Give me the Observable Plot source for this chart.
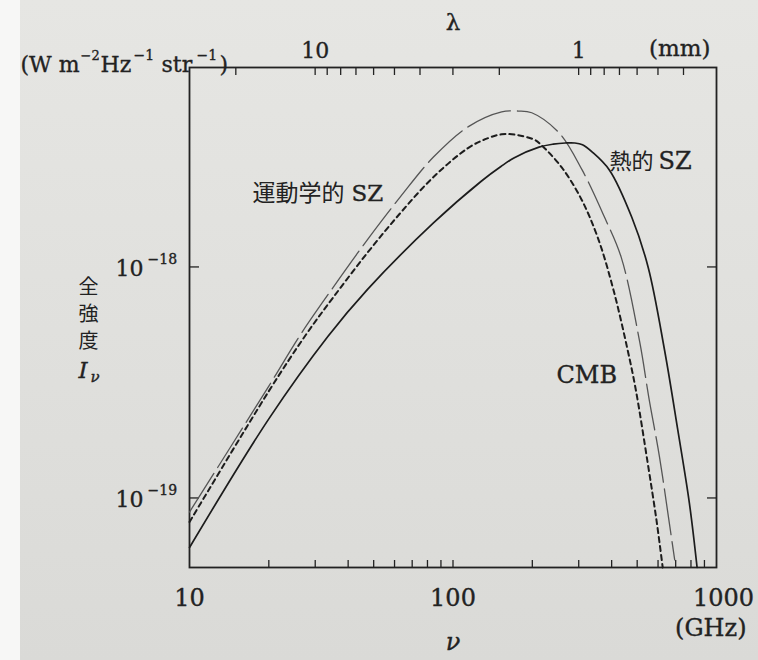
<!DOCTYPE html>
<html>
<head>
<meta charset="utf-8">
<script src="https://cdn.jsdelivr.net/npm/d3@7"></script>
<script src="https://cdn.jsdelivr.net/npm/@observablehq/plot@0.6"></script>
<style>
  html, body { margin: 0; padding: 0; }
  body {
    width: 758px; height: 660px; overflow: hidden;
    background:
      linear-gradient(to right, #f7f7f6 0, #f7f7f6 20px, rgba(0,0,0,0) 20px),
      linear-gradient(#e6e6e3, #dadad7);
  }
  #chart svg { display: block; }
</style>
</head>
<body>
<div id="chart"></div>
<script>
// ---- data (frequency in GHz, intensity in W m^-2 Hz^-1 str^-1) ----
const nuCMB = [10, 20, 27.7, 35.2, 47.3, 63.1, 84.3, 114, 135, 153, 171, 204, 217, 259, 308, 356, 407, 460, 494, 548, 592, 625];
const iCMB  = [7.87e-20, 2.9e-19, 5.1e-19, 7.41e-19, 1.15e-18, 1.71e-18, 2.45e-18, 3.27e-18, 3.6e-18, 3.75e-18, 3.74e-18, 3.55e-18, 3.36e-18, 2.69e-18, 1.95e-18, 1.32e-18, 7.9e-19, 4.37e-19, 2.94e-19, 1.42e-19, 8.0e-20, 5.0e-20];

const nuKin = [10, 20, 26.4, 35.2, 47.3, 63.1, 84.3, 114, 153, 177, 199, 253, 309, 376, 435, 512, 553, 608, 657, 694];
const iKin  = [8.69e-20, 3.05e-19, 5.1e-19, 8.2e-19, 1.31e-18, 2.01e-18, 2.99e-18, 4.04e-18, 4.69e-18, 4.73e-18, 4.65e-18, 3.80e-18, 2.63e-18, 1.64e-18, 1.10e-18, 4.69e-19, 2.74e-19, 1.50e-19, 8.28e-20, 5.39e-20];

const nuTh = [10, 20, 33.5, 47.4, 84.3, 128, 152, 171, 212, 240, 267, 290, 310, 337, 392, 477, 550, 635, 713, 789, 844];
const iTh  = [6.1e-20, 2.2e-19, 5.0e-19, 8.0e-19, 1.55e-18, 2.35e-18, 2.72e-18, 2.97e-18, 3.30e-18, 3.40e-18, 3.44e-18, 3.44e-18, 3.38e-18, 3.15e-18, 2.63e-18, 1.64e-18, 1.0e-18, 4.37e-19, 1.97e-19, 9.5e-20, 5.0e-20];

// axes
const xDomain = [10, 1000];
const yDomain = [5.0e-20, 7.3e-18];
const xLabelTicks = [10, 100, 1000];
const xMinorTicks = [20, 30, 40, 50, 60, 70, 80, 90, 100, 200, 300, 400, 500, 600, 700, 800, 900];
const lambdaTicks = [20, 10, 9, 8, 7, 6, 5, 4, 3, 2, 1, 0.9, 0.8, 0.7, 0.6, 0.5, 0.4]; // mm
const lambdaLabels = [10, 1]; // mm
const yTicks = [1e-19, 1e-18];
const yTitleChars = ["全", "強", "度"];
const C_MM_GHZ = 299.792458; // lambda[mm] * nu[GHz]

const toRows = (nu, I, name) => nu.map((v, i) => ({nu: v, I: I[i], name}));
const cmb = toRows(nuCMB, iCMB, "CMB");
const kin = toRows(nuKin, iKin, "運動学的 SZ");
const th  = toRows(nuTh, iTh, "熱的 SZ");

const SERIF = "DejaVu Serif, Liberation Serif, serif";
const CJK = "Noto Sans CJK JP, sans-serif";
const CJK_IN_SERIF = "DejaVu Serif, Noto Sans CJK JP, serif";
const INK = "#222222";
const HEAVY = {stroke: INK, strokeWidth: 0.35};

const ML = 189, MT = 67;
// free-standing label helper, positioned relative to the frame's top-left corner
const lab = (text, px, py, o = {}) => Plot.text([0], {
  frameAnchor: "top-left", dx: px - ML, dy: py - MT, text: () => text,
  lineAnchor: "bottom", textAnchor: "start", fill: INK, fontFamily: SERIF, fontSize: 22, ...HEAVY, ...o
});

const chart = Plot.plot({
  width: 758, height: 660,
  marginLeft: ML, marginRight: 42, marginTop: MT, marginBottom: 93,
  x: {type: "log", domain: xDomain},
  y: {type: "log", domain: yDomain},
  style: {background: "transparent", overflow: "visible"},
  marks: [
    // ticks (inward)
    Plot.axisX(xMinorTicks, {anchor: "bottom", tickSize: -7, tickFormat: () => "", label: null, stroke: INK, strokeWidth: 1.3}),
    Plot.axisX(lambdaTicks.map(l => C_MM_GHZ / l), {anchor: "top", tickSize: -7, tickFormat: () => "", label: null, stroke: INK, strokeWidth: 1.3}),
    Plot.axisY(yTicks, {anchor: "left", tickSize: -10, tickFormat: () => "", label: null, stroke: INK, strokeWidth: 1.3}),
    Plot.axisY(yTicks, {anchor: "right", tickSize: -10, tickFormat: () => "", label: null, stroke: INK, strokeWidth: 1.3}),
    Plot.frame({stroke: INK, strokeWidth: 1.8}),

    // curves
    Plot.line(kin, {x: "nu", y: "I", curve: "catmull-rom", stroke: "#555555", strokeWidth: 1.3, strokeDasharray: "46,7"}),
    Plot.line(cmb, {x: "nu", y: "I", curve: "catmull-rom", stroke: "#1c1c1c", strokeWidth: 2, strokeDasharray: "5,4"}),
    Plot.line(th,  {x: "nu", y: "I", curve: "catmull-rom", stroke: "#1c1c1c", strokeWidth: 1.7}),

    // bottom axis labels
    Plot.text(xLabelTicks.slice(0, 2), {x: d => d, text: d => String(d), frameAnchor: "bottom", lineAnchor: "bottom", dy: 38, fill: INK, fontFamily: SERIF, fontSize: 24, ...HEAVY}),
    Plot.text(xLabelTicks.slice(2), {x: d => d, text: d => String(d), frameAnchor: "bottom", lineAnchor: "bottom", dy: 38, dx: 7, fill: INK, fontFamily: SERIF, fontSize: 24, ...HEAVY}),
    Plot.text(["(GHz)"], {x: xDomain[1], text: d => d, frameAnchor: "bottom", lineAnchor: "bottom", textAnchor: "end", dx: 30, dy: 68, fill: INK, fontFamily: SERIF, fontSize: 24, ...HEAVY}),
    Plot.text(["ν"], {x: 100, text: d => d, frameAnchor: "bottom", lineAnchor: "bottom", dy: 82, fill: INK, fontFamily: SERIF, fontStyle: "italic", fontSize: 24, ...HEAVY}),

    // top axis labels
    Plot.text(lambdaLabels, {x: d => C_MM_GHZ / d, text: d => String(d), frameAnchor: "top", lineAnchor: "bottom", dy: -10, fill: INK, fontFamily: SERIF, fontSize: 22, ...HEAVY}),
    Plot.text(["(mm)"], {text: d => d, frameAnchor: "top-right", lineAnchor: "bottom", textAnchor: "end", dx: -6, dy: -12, fill: INK, fontFamily: SERIF, fontSize: 23, ...HEAVY}),
    Plot.text(["λ"], {x: 100, text: d => d, frameAnchor: "top", lineAnchor: "bottom", dy: -38, fill: INK, fontFamily: SERIF, fontSize: 23, ...HEAVY}),

    // unit label
    lab("(W m", 20, 71),
    lab("−2", 80, 59, {fontSize: 13}),
    lab("Hz", 100, 71),
    lab("−1", 133, 59, {fontSize: 14}),
    lab("str", 161, 71),
    lab("−1", 196, 59, {fontSize: 14}),
    lab(")", 219, 71),

    // y tick labels
    Plot.text(yTicks, {y: d => d, text: () => "10", frameAnchor: "left", lineAnchor: "bottom", textAnchor: "end", dx: -46, dy: 9, fill: INK, fontFamily: SERIF, fontSize: 22, ...HEAVY}),
    Plot.text(yTicks, {y: d => d, text: d => "−" + String(-Math.round(Math.log10(d))), frameAnchor: "left", lineAnchor: "bottom", textAnchor: "start", dx: -42, dy: -3, fill: INK, fontFamily: SERIF, fontSize: 14, ...HEAVY}),

    // y title (stacked vertically, one character per line)
    ...yTitleChars.map((c, i) => lab(c, 88, 293 + 27 * i, {fontFamily: CJK_IN_SERIF, fontSize: 20, textAnchor: "middle", stroke: null})),
    lab("I", 78, 377, {fontStyle: "italic", fontSize: 23}),
    lab("ν", 90, 381, {fontStyle: "italic", fontSize: 15}),

    // curve labels
    lab("運動学的", 344, 200, {fontFamily: CJK, fontSize: 23, textAnchor: "end", stroke: null}),
    lab("SZ", 351, 200, {fontSize: 23}),
    lab("熱的", 609, 168, {fontFamily: CJK, fontSize: 22, stroke: null}),
    lab("SZ", 658, 168, {fontSize: 24}),
    lab("CMB", 556, 382, {fontSize: 24})
  ]
});
document.getElementById("chart").appendChild(chart);
</script>
</body>
</html>
